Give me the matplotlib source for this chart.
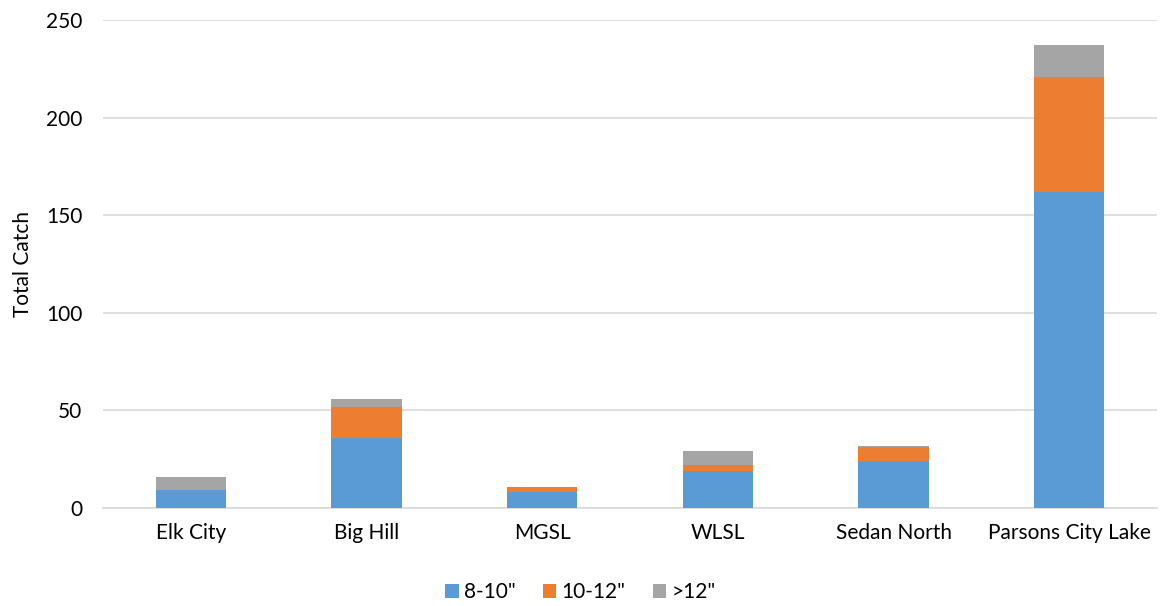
import numpy as np
import matplotlib.pyplot as plt

# ====== data ======
lakes = ["Elk City", "Big Hill", "MGSL", "WLSL", "Sedan North", "Parsons City Lake"]
size_8_10 = [9, 36, 8, 19, 24, 162]
size_10_12 = [0, 16, 3, 3, 7, 59]
size_over_12 = [7, 4, 0, 7, 1, 16]
labels = ['8-10"', '10-12"', '>12"']
colors = ["#5b9bd5", "#ed7d31", "#a5a5a5"]

plt.rcParams['font.family'] = ['Lato', 'DejaVu Sans']

fig = plt.figure(figsize=(11.61, 6.06), dpi=100)
ax = fig.add_axes([0.0887, 0.1617, 0.908, 0.8053])

x = np.arange(len(lakes))
bottom = np.zeros(len(lakes))
for vals, lab, col in zip([size_8_10, size_10_12, size_over_12], labels, colors):
    ax.bar(x, vals, width=0.4, bottom=bottom, color=col, label=lab, zorder=3)
    bottom += np.array(vals)

ax.set_xlim(-0.5, len(lakes) - 0.5)
ax.set_ylim(0, 250)
ax.set_yticks(range(0, 251, 50))
ax.set_xticks(x)
ax.set_xticklabels(lakes)
ax.yaxis.grid(True, color="#d9d9d9", linewidth=1.2, zorder=0)
for s in ["top", "right", "left"]:
    ax.spines[s].set_visible(False)
ax.spines["bottom"].set_color("#d9d9d9")
ax.spines["bottom"].set_linewidth(1.2)
ax.tick_params(axis='both', length=0, labelsize=15, colors="#000000")
ax.tick_params(axis='x', pad=11)
ax.tick_params(axis='y', pad=15)
ax.set_ylabel("Total Catch", fontsize=15)
ax.yaxis.set_label_coords(-0.066, 0.5)

fig.legend(loc="lower center", bbox_to_anchor=(0.5, -0.025), ncol=3, frameon=False,
           fontsize=15, handlelength=0.65, handleheight=0.65, handletextpad=0.25,
           columnspacing=1.3)

fig.savefig("out.png", dpi=100)
